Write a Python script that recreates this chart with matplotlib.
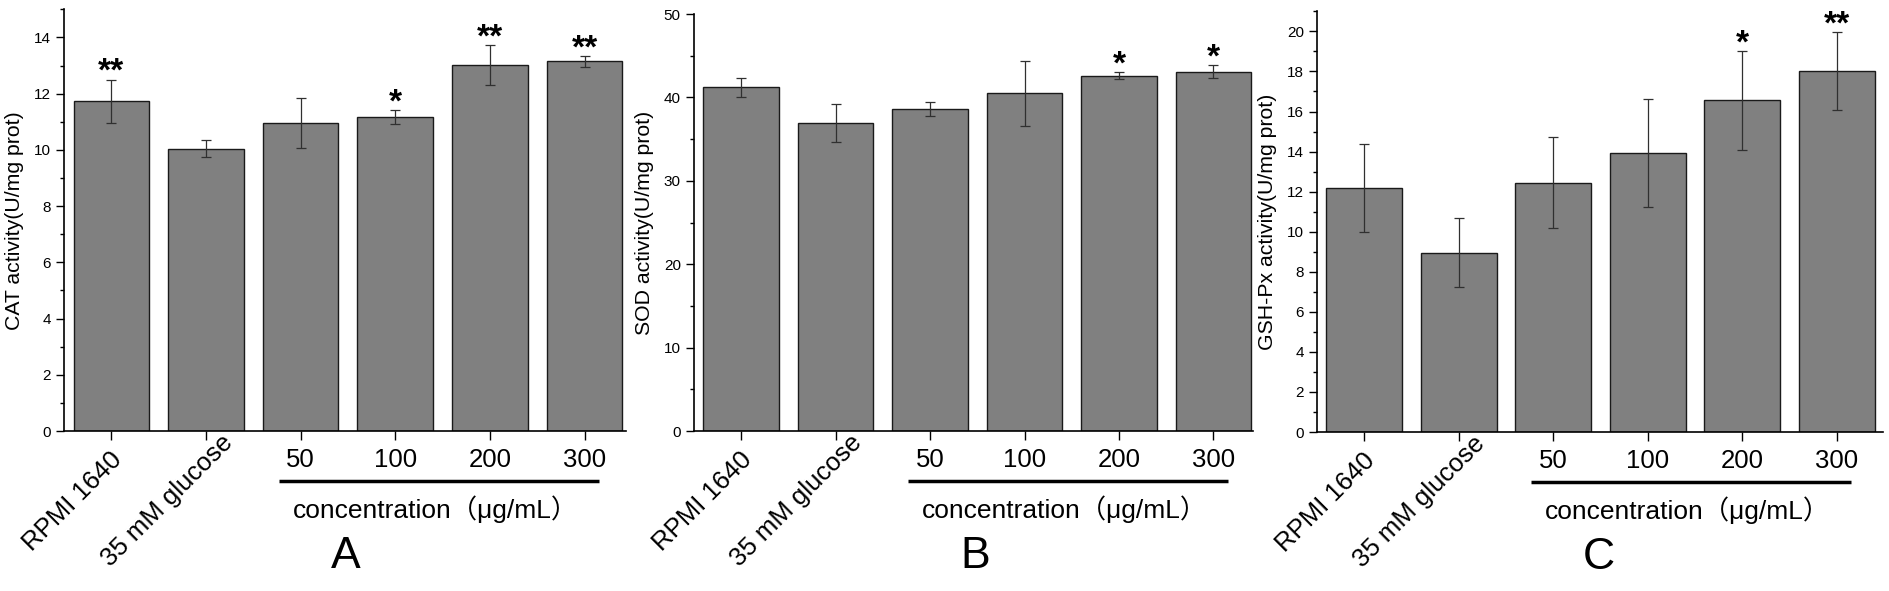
import matplotlib
matplotlib.use("Agg")
import matplotlib.pyplot as plt
from matplotlib.ticker import MultipleLocator
from matplotlib.transforms import offset_copy

plt.rcParams['font.family'] = ['Liberation Sans', 'Noto Sans CJK SC', 'DejaVu Sans']

groups = ["RPMI 1640", "35 mM glucose", "50", "100", "200", "300"]

# CAT activity (panel A)
cat_mean = [11.73, 10.04, 10.95, 11.17, 13.02, 13.15]
cat_err = [0.77, 0.30, 0.88, 0.25, 0.70, 0.20]
cat_stars = ["**", "", "", "*", "**", "**"]

# SOD activity (panel B)
sod_mean = [41.2, 36.9, 38.6, 40.5, 42.6, 43.1]
sod_err = [1.1, 2.3, 0.85, 3.9, 0.45, 0.8]
sod_stars = ["", "", "", "", "*", "*"]

# GSH-Px activity (panel C)
gsh_mean = [12.2, 8.95, 12.44, 13.93, 16.56, 18.03]
gsh_err = [2.2, 1.72, 2.27, 2.68, 2.46, 1.94]
gsh_stars = ["", "", "", "", "*", "**"]

conc_label = "concentration（μg/mL）"

PX = 0.72  # points per pixel at dpi 100

fig = plt.figure(figsize=(18.9, 5.91), dpi=100)


def draw_panel(rect, means, errs, stars, ylabel, ymax, major, minor, letter, xmax):
    ax = fig.add_axes(rect)
    x = list(range(len(groups)))
    ax.bar(x, means, width=0.8, color='#808080', edgecolor='#1a1a1a', linewidth=1.0, zorder=2)
    ax.errorbar(x, means, yerr=errs, fmt='none', ecolor='#303030',
                elinewidth=0.9, capsize=3.5, capthick=0.9, zorder=3)
    for xi, m, e, s in zip(x, means, errs, stars):
        if s:
            ax.annotate(s, xy=(xi, m + e), xytext=(0, -1), textcoords='offset points',
                        ha='center', va='baseline', fontsize=24, fontweight='bold')

    ax.set_xlim(-0.5, xmax)
    ax.set_ylim(0, ymax)
    ax.set_xticks(x)
    ax.yaxis.set_major_locator(MultipleLocator(major))
    ax.yaxis.set_minor_locator(MultipleLocator(minor))
    ax.tick_params(axis='y', which='major', direction='out', length=5.5, width=1.0,
                   labelsize=11, pad=4)
    ax.tick_params(axis='y', which='minor', direction='out', length=3, width=1.0)
    ax.tick_params(axis='x', direction='out', length=6.5, width=1.0, labelbottom=False)
    for side in ['top', 'right']:
        ax.spines[side].set_visible(False)
    for side in ['left', 'bottom']:
        ax.spines[side].set_linewidth(1.2)

    ax.text(-0.088, 0.5, ylabel, rotation=90, ha='center', va='center',
            fontsize=15.3, transform=ax.transAxes)

    # x labels: first two rotated, doses horizontal
    for xi, g in zip(x, groups):
        if xi < 2:
            ax.annotate(g, xy=(xi, 0), xycoords=('data', 'axes fraction'),
                        xytext=(-39 * PX, -70 * PX), textcoords='offset points',
                        rotation=45, ha='center', va='center', fontsize=18.5)
        else:
            ax.annotate(g, xy=(xi, 0), xycoords=('data', 'axes fraction'),
                        xytext=(0, -29 * PX), textcoords='offset points',
                        ha='center', va='center', fontsize=18.5)

    trans = offset_copy(ax.get_xaxis_transform(), fig=fig, y=-50 * PX, units='points')
    ax.plot([1.77, 5.15], [0, 0], transform=trans, color='black', lw=2.5,
            clip_on=False, solid_capstyle='butt')
    ax.annotate(conc_label, xy=(3.42, 0), xycoords=('data', 'axes fraction'),
                xytext=(0, -78 * PX), textcoords='offset points',
                ha='center', va='center', fontsize=19)
    ax.annotate(letter, xy=(2.48, 0), xycoords=('data', 'axes fraction'),
                xytext=(0, -125 * PX), textcoords='offset points',
                ha='center', va='center', fontsize=32)
    return ax


draw_panel([0.0339, 0.2707, 0.2974, 0.7135], cat_mean, cat_err, cat_stars,
           "CAT activity(U/mg prot)", 15, 2, 1, "A", 5.44)
draw_panel([0.3672, 0.2707, 0.2958, 0.7056], sod_mean, sod_err, sod_stars,
           "SOD activity(U/mg prot)", 50, 10, 5, "B", 5.42)
draw_panel([0.6968, 0.2690, 0.2995, 0.7118], gsh_mean, gsh_err, gsh_stars,
           "GSH-Px activity(U/mg prot)", 21, 2, 1, "C", 5.49)

fig.savefig("out.png", dpi=100)
